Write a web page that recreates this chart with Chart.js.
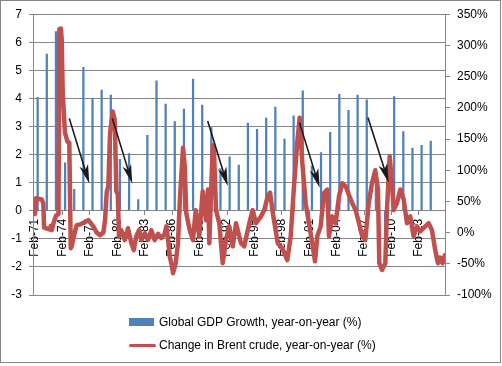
<!DOCTYPE html>
<html>
<head>
<meta charset="utf-8">
<script src="https://cdn.jsdelivr.net/npm/chart.js@4.4.1/dist/chart.umd.min.js"></script>
<style>
  body { margin: 0; background: #fff; }
  #wrap { position: relative; width: 502px; height: 366px; font-family: 'Liberation Sans', Arial, sans-serif; }
  #chart { position: absolute; left: 0; top: 0; }
  #frame { position: absolute; left: 0; top: 0; width: 499px; height: 361px; border: 1px solid #868686; pointer-events: none; }
  .legend-row { position: absolute; left: 129px; height: 16px; display: flex; align-items: center; font-size: 12px; color: #000; white-space: nowrap; }
  .swatch-bar { width: 25px; height: 8px; background: #4f81bd; margin-right: 5px; }
  .swatch-line { width: 27px; height: 3px; border-radius: 2px; background: #c0504d; margin-right: 3px; }
</style>
</head>
<body>
<div id="wrap">
  <canvas id="chart" width="502" height="366"></canvas>
  <div id="frame"></div>
  <div class="legend-row" style="top: 314px;"><span class="swatch-bar"></span>Global GDP Growth, year-on-year (%)</div>
  <div class="legend-row" style="top: 337px;"><span class="swatch-line"></span>Change in Brent crude, year-on-year (%)</div>
</div>
<script>
// annual global GDP growth (left axis, %)
const gdpYears = [1971, 1972, 1973, 1974, 1975, 1976, 1977, 1978, 1979, 1980,
  1981, 1982, 1983, 1984, 1985, 1986, 1987, 1988, 1989, 1990,
  1991, 1992, 1993, 1994, 1995, 1996, 1997, 1998, 1999, 2000,
  2001, 2002, 2003, 2004, 2005, 2006, 2007, 2008, 2009, 2010,
  2011, 2012, 2013, 2014];
const gdpGrowth = [4.04, 5.58, 6.38, 1.71, 0.76, 5.11, 4.0, 4.3, 4.12, 1.83,
  2.04, 0.4, 2.69, 4.63, 3.8, 3.18, 3.62, 4.69, 3.76, 2.96,
  1.5, 1.92, 1.63, 3.12, 2.9, 3.3, 3.69, 2.55, 3.38, 4.27,
  1.6, 2.07, 2.79, 4.15, 3.58, 4.12, 3.95, 1.5, -1.0, 4.07,
  2.82, 2.23, 2.33, 2.48];

// Brent crude, year-on-year change (right axis, %), date as fractional year
const brentDate = [1971.08, 1971.19, 1971.82, 1971.99, 1972.07, 1972.72, 1972.8, 1972.91, 1973.16, 1973.38,
  1973.65, 1973.74, 1973.91, 1974.0, 1974.11, 1974.36, 1974.62, 1974.83, 1974.99, 1975.1,
  1975.29, 1975.64, 1976.0, 1976.55, 1976.91, 1977.46, 1977.83, 1978.19, 1978.55, 1978.74,
  1978.93, 1979.1, 1979.29, 1979.58, 1979.8, 1979.98, 1980.13, 1980.27, 1980.52, 1980.89,
  1981.25, 1981.62, 1981.88, 1982.16, 1982.46, 1982.71, 1983.08, 1983.44, 1983.8, 1984.17,
  1984.54, 1984.9, 1985.27, 1985.44, 1985.63, 1985.81, 1985.99, 1986.18, 1986.47, 1986.72,
  1986.91, 1987.08, 1987.27, 1987.46, 1987.63, 1988.0, 1988.36, 1988.66, 1989.05, 1989.42,
  1989.79, 1990.0, 1990.15, 1990.52, 1990.66, 1990.88, 1991.24, 1991.61, 1991.97, 1992.33,
  1992.71, 1993.07, 1993.61, 1993.97, 1994.52, 1994.89, 1995.25, 1995.8, 1996.16, 1996.53,
  1996.79, 1997.11, 1997.63, 1998.13, 1998.68, 1999.05, 1999.41, 1999.77, 2000.03, 2000.32,
  2000.69, 2001.05, 2001.41, 2001.71, 2001.96, 2002.33, 2002.69, 2003.05, 2003.24, 2003.6,
  2003.97, 2004.33, 2004.69, 2005.07, 2005.43, 2005.79, 2006.16, 2006.52, 2006.88, 2007.21,
  2007.58, 2007.94, 2008.3, 2008.6, 2008.74, 2009.04, 2009.4, 2009.58, 2009.88, 2010.13,
  2010.31, 2010.67, 2011.04, 2011.41, 2011.77, 2012.13, 2012.5, 2012.86, 2013.22, 2013.77,
  2014.14, 2014.5, 2014.86, 2015.16, 2015.41, 2015.67, 2015.92];
const brentChange = [30, 55, 53, 47, 8, 5, 11, 4, 18, 27,
  30, 326, 327, 310, 224, 160, 146, 144, -25, -22,
  -8, 12, 13, 17, 20, 10, 0, -4, 0, 20,
  66, 74, 160, 194, 181, 66, 62, -6, 4, -12,
  7, -17, -28, -6, 4, -12, -1, -12, 4, -12,
  -2, -9, -2, 10, -10, -38, -49, -65, -49, -17,
  47, 90, 136, 106, 31, 4, -12, 36, -6, 66,
  20, 69, -17, 140, 130, 36, 15, -49, -12, 10,
  -22, 15, -17, -22, 15, 36, 15, 26, 36, 58,
  64, 30, -17, -25, -44, -6, 74, 144, 184, 112,
  47, 15, -17, -46, -6, 10, 63, 69, -6, 26,
  15, 58, 79, 74, 60, 47, 36, 15, -6, -12,
  47, 79, 100, 69, -49, -60, -49, 36, 122, 79,
  36, 47, 69, 53, 15, 26, -6, 10, 2, 10,
  15, 4, -28, -49, -40, -49, -36];

const xTickLabels = ['Feb-71', 'Feb-74', 'Feb-77', 'Feb-80', 'Feb-83', 'Feb-86', 'Feb-89', 'Feb-92',
  'Feb-95', 'Feb-98', 'Feb-01', 'Feb-04', 'Feb-07', 'Feb-10', 'Feb-13'];

// annotation arrows, in (date, left-axis value)
const arrowFrom = [[1974.83, 3.29], [1979.54, 3.29], [1989.97, 3.2], [2000.0, 3.14], [2007.5, 3.32]];
const arrowTo = [[1977.02, 0.97], [1981.72, 0.97], [1992.16, 0.88], [2002.22, 0.82], [2009.77, 1.0]];

const labelToDate = (lbl) => {
  const yy = parseInt(lbl.slice(4), 10);
  return (yy > 50 ? 1900 + yy : 2000 + yy) + 1 / 12;
};

const gridColor = '#868686';

const arrowPlugin = {
  id: 'arrows',
  afterDatasetsDraw(chart) {
    const { ctx } = chart;
    const { x, y } = chart.scales;
    ctx.save();
    ctx.strokeStyle = '#1a1a1a';
    ctx.fillStyle = '#1a1a1a';
    ctx.lineWidth = 1.6;
    for (let i = 0; i < arrowFrom.length; i += 1) {
      const sx = x.getPixelForValue(arrowFrom[i][0]);
      const sy = y.getPixelForValue(arrowFrom[i][1]);
      const tx = x.getPixelForValue(arrowTo[i][0]);
      const ty = y.getPixelForValue(arrowTo[i][1]);
      const len = Math.hypot(tx - sx, ty - sy);
      const ux = (tx - sx) / len;
      const uy = (ty - sy) / len;
      const nx = -uy;
      const ny = ux;
      const head = 19;
      const half = 4.5;
      const notch = 5;
      ctx.beginPath();
      ctx.moveTo(sx, sy);
      ctx.lineTo(tx - ux * (head - notch), ty - uy * (head - notch));
      ctx.stroke();
      ctx.beginPath();
      ctx.moveTo(tx, ty);
      ctx.lineTo(tx - ux * head + nx * half, ty - uy * head + ny * half);
      ctx.lineTo(tx - ux * (head - notch), ty - uy * (head - notch));
      ctx.lineTo(tx - ux * head - nx * half, ty - uy * head - ny * half);
      ctx.closePath();
      ctx.fill();
    }
    ctx.restore();
  },
};

Chart.defaults.font.family = "'Liberation Sans', Arial, sans-serif";
Chart.defaults.font.size = 12;
Chart.defaults.color = '#000';

const ctx = document.getElementById('chart').getContext('2d');
new Chart(ctx, {
  type: 'line',
  data: {
    datasets: [
      {
        type: 'line',
        label: 'Change in Brent crude, year-on-year (%)',
        data: brentDate.map((d, i) => ({ x: d, y: brentChange[i] })),
        yAxisID: 'y2',
        borderColor: '#c0504d',
        backgroundColor: '#c0504d',
        borderWidth: 4.5,
        borderJoinStyle: 'round',
        borderCapStyle: 'round',
        pointRadius: 0,
        tension: 0,
        order: 0,
      },
      {
        type: 'bar',
        label: 'Global GDP Growth, year-on-year (%)',
        data: gdpYears.map((yr, i) => ({ x: yr + 0.37, y: gdpGrowth[i] })),
        yAxisID: 'y',
        backgroundColor: '#4f81bd',
        barThickness: 1.6,
        order: 1,
      },
    ],
  },
  options: {
    responsive: false,
    animation: false,
    events: [],
    layout: { padding: { top: 8, bottom: 71, left: 0, right: 0 } },
    plugins: { legend: { display: false }, tooltip: { enabled: false } },
    scales: {
      x: {
        type: 'linear',
        position: { y: 0 },
        min: 1970.86,
        max: 2015.93,
        offset: false,
        afterBuildTicks: (s) => { s.ticks = xTickLabels.map((l) => ({ value: labelToDate(l) })); },
        afterFit: (s) => { s.height = 0; },
        ticks: {
          autoSkip: false,
          minRotation: 90,
          maxRotation: 90,
          padding: 4,
          callback: (v) => {
            const idx = xTickLabels.findIndex((l) => Math.abs(labelToDate(l) - v) < 0.01);
            return idx >= 0 ? xTickLabels[idx] : '';
          },
        },
        grid: { drawOnChartArea: false, offset: false, tickLength: 4, color: gridColor },
        border: { color: gridColor },
      },
      y: {
        position: 'left',
        min: -3,
        max: 7,
        afterFit: (s) => { s.width = 33; },
        ticks: { stepSize: 1, padding: 7 },
        grid: { color: gridColor, tickLength: 4 },
        border: { color: gridColor },
      },
      y2: {
        position: 'right',
        min: -100,
        max: 350,
        afterFit: (s) => { s.width = 57; },
        ticks: { stepSize: 50, padding: 7, callback: (v) => `${v}%` },
        grid: { drawOnChartArea: false, tickLength: 5, color: gridColor },
        border: { color: gridColor },
      },
    },
  },
  plugins: [arrowPlugin],
});
</script>
</body>
</html>
